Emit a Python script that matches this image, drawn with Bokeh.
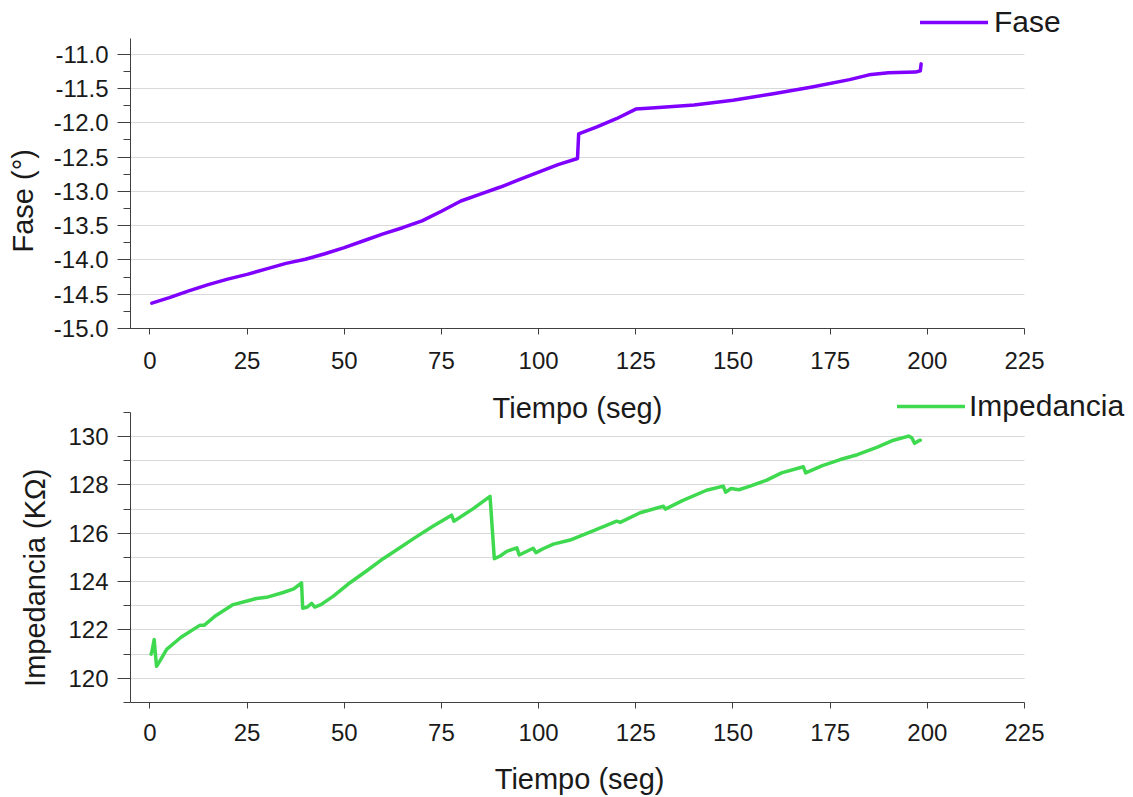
import numpy as np
from bokeh.plotting import figure
from bokeh.layouts import column
from bokeh.models import (Range1d, SingleIntervalTicker, NumeralTickFormatter,
                          Legend, LegendItem, Label, Grid, ColumnDataSource)
from bokeh.embed import file_html
from bokeh.resources import INLINE

FONT = "Liberation Sans"
TEXT = "#1a1a1a"
AXIS = "#404040"
GRID = "#d9d9d9"
NBSP = "\u00a0"

# Phase angle over time (seconds, degrees)
fase_t = [0.5, 5, 10, 15, 20, 25, 30, 35, 40, 45, 50, 55, 60, 65, 70, 75,
          80, 85, 90, 95, 100, 105, 110, 110.3, 115, 120, 125, 130, 140,
          150, 160, 170, 180, 185, 190, 197, 198.2, 198.4]
fase_deg = [-14.63, -14.55, -14.45, -14.36, -14.28, -14.21, -14.13, -14.05,
            -13.99, -13.91, -13.82, -13.72, -13.62, -13.53, -13.43, -13.29,
            -13.14, -13.04, -12.94, -12.83, -12.72, -12.61, -12.52, -12.16,
            -12.06, -11.94, -11.80, -11.78, -11.74, -11.67, -11.58, -11.48,
            -11.37, -11.30, -11.27, -11.26, -11.24, -11.14]

# Impedance magnitude over time (seconds, kOhm)
imp_t = [0.3, 0.5, 1.1, 1.3, 1.7, 2.5, 4.3, 8.0, 12.9, 14.0, 17.0, 21.4,
         25.0, 27.4, 30.0, 34.3, 37.0, 39.0, 39.3, 40.5, 41.6, 42.4, 44.0,
         47.2, 51.0, 55.8, 60.0, 64.3, 68.0, 72.9, 77.6, 78.2, 83.0, 87.5,
         88.6, 90.0, 91.8, 94.4, 95.0, 98.6, 99.3, 101.0, 103.8, 108.1,
         114.0, 120.1, 121.0, 126.1, 132.1, 132.6, 137.0, 143.2, 147.5,
         148.1, 149.5, 151.5, 154.4, 158.7, 162.5, 168.1, 168.7, 173.0,
         177.6, 182.0, 187.0, 191.3, 195.2, 196.0, 196.7, 197.5, 198.2]
imp_kohm = [121.0, 121.1, 121.6, 121.2, 120.5, 120.7, 121.2, 121.7, 122.2,
            122.2, 122.6, 123.05, 123.2, 123.3, 123.35, 123.55, 123.7,
            123.95, 122.9, 122.95, 123.1, 122.95, 123.05, 123.4, 123.9,
            124.45, 124.95, 125.4, 125.8, 126.3, 126.75, 126.5, 127.0,
            127.53, 124.95, 125.05, 125.25, 125.4, 125.1, 125.38, 125.2,
            125.35, 125.55, 125.72, 126.1, 126.5, 126.45, 126.85, 127.12,
            127.0, 127.35, 127.78, 127.95, 127.7, 127.85, 127.8, 127.95,
            128.2, 128.5, 128.75, 128.5, 128.8, 129.05, 129.25, 129.55,
            129.85, 130.02, 129.95, 129.72, 129.8, 129.85]

X_LABEL = "Tiempo (seg)"
FASE_LABEL = "Fase (°)"
IMP_LABEL = "Impedancia (KΩ)"

# axis extents
T_MIN, T_MAX = -5, 225
FASE_MIN, FASE_MAX = -15, -10.77
IMP_MIN, IMP_MAX = 119, 131

# page geometry (px)
W = 1133
LEFT = 130                 # frame left edge
AXIS_W = 894               # drawn length of the time axis
P1_H, P1_FRAME_B = 380, 328
P2_H, P2_FRAME_H = 417, 323
FASE_AXIS_H = 290
IMP_AXIS_H = 291
LEGEND_H = 36
UPPER_TITLE_RISE = 4       # baseline of the upper time title above the impedance axis top

# the frames reach up/right past the axes so that the legends and the
# upper time title fit inside them; the axes themselves are bounded
px_t = AXIS_W / (T_MAX - T_MIN)
t_end = T_MIN + (W - LEFT) / px_t
px_f = FASE_AXIS_H / (FASE_MAX - FASE_MIN)
f_end = FASE_MIN + P1_FRAME_B / px_f
px_i = IMP_AXIS_H / (IMP_MAX - IMP_MIN)
i_end = IMP_MIN + P2_FRAME_H / px_i

HAS_CROSS = "cross_bounds" in Grid.properties()


def style_axes(p, y_lo, y_hi, y_interval, y_minor, x_standoff, y_label_standoff):
    p.outline_line_color = None
    p.background_fill_color = "white"
    p.border_fill_color = "white"
    p.xgrid.visible = False

    xa = p.xaxis[0]
    xa.bounds = (T_MIN, T_MAX)
    xa.ticker = SingleIntervalTicker(interval=25, num_minor_ticks=0)
    xa.axis_line_color = AXIS
    xa.major_tick_line_color = AXIS
    xa.major_tick_in = 0
    xa.major_tick_out = 6
    xa.minor_tick_line_color = None
    xa.major_label_standoff = x_standoff
    xa.major_label_text_font = FONT
    xa.major_label_text_font_size = "24px"
    xa.major_label_text_color = TEXT
    xa.axis_label_text_font = FONT
    xa.axis_label_text_font_size = "29px"
    xa.axis_label_text_font_style = "normal"
    xa.axis_label_text_color = TEXT

    ya = p.yaxis[0]
    ya.bounds = (y_lo, y_hi)
    ya.ticker = SingleIntervalTicker(interval=y_interval, num_minor_ticks=y_minor)
    ya.axis_line_color = AXIS
    ya.major_tick_line_color = AXIS
    ya.minor_tick_line_color = AXIS
    ya.major_tick_in = 0
    ya.major_tick_out = 13
    ya.minor_tick_in = 0
    ya.minor_tick_out = 7
    ya.major_label_standoff = 9
    ya.major_label_text_font = FONT
    ya.major_label_text_font_size = "24px"
    ya.major_label_text_color = TEXT
    ya.axis_label_text_font = FONT
    ya.axis_label_text_font_size = "29px"
    ya.axis_label_text_font_style = "normal"
    ya.axis_label_text_color = TEXT
    ya.axis_label_standoff = y_label_standoff


def add_hgrid(p, lo, hi, step):
    """Horizontal grid lines limited to the time axis extent."""
    g = p.ygrid[0]
    g.grid_line_color = GRID
    g.grid_line_width = 1
    g.bounds = (lo, hi)
    if HAS_CROSS:
        g.cross_bounds = (T_MIN, T_MAX)
        if step < p.yaxis[0].ticker.interval:
            g.minor_grid_line_color = GRID
    else:
        g.visible = False
        levels = np.arange(lo, hi + 1e-9, step)
        p.segment(x0=T_MIN, x1=T_MAX, y0=levels, y1=levels,
                  line_color=GRID, line_width=1, level="underlay")


def make_legend(label, renderer, location, standoff):
    return Legend(items=[LegendItem(label=label, renderers=[renderer])],
                  location=location, orientation="vertical",
                  padding=0, margin=0, spacing=0,
                  glyph_width=68, glyph_height=LEGEND_H,
                  label_height=LEGEND_H, label_standoff=standoff,
                  label_text_font=FONT, label_text_font_size="30px",
                  label_text_color=TEXT,
                  border_line_color=None, background_fill_alpha=0)


# ---- upper panel: phase ----
p1 = figure(width=W, height=P1_H,
            x_range=Range1d(T_MIN, t_end), y_range=Range1d(FASE_MIN, f_end),
            output_backend="svg", toolbar_location=None,
            min_border_left=LEFT, min_border_right=0,
            min_border_top=0, min_border_bottom=P1_H - P1_FRAME_B)
style_axes(p1, FASE_MIN, FASE_MAX, 0.5, 2, 17, 12)
add_hgrid(p1, FASE_MIN, -11.0, 0.5)
p1.yaxis[0].formatter = NumeralTickFormatter(format="0.0")
p1.yaxis[0].axis_label = FASE_LABEL + NBSP * 9

src_f = ColumnDataSource(dict(t=fase_t, v=fase_deg))
r_f = p1.line("t", "v", source=src_f, line_color="#7f00ff", line_width=3.5,
              line_join="round", line_cap="round")
p1.add_layout(make_legend("Fase", r_f, (790, P1_FRAME_B - 4 - LEGEND_H), 6))

# ---- lower panel: impedance ----
p2 = figure(width=W, height=P2_H,
            x_range=Range1d(T_MIN, t_end), y_range=Range1d(IMP_MIN, i_end),
            output_backend="svg", toolbar_location=None,
            min_border_left=LEFT, min_border_right=0,
            min_border_top=0, min_border_bottom=P2_H - P2_FRAME_H)
style_axes(p2, IMP_MIN, IMP_MAX, 2, 2, 15, 14)
add_hgrid(p2, IMP_MIN, 130, 1)
p2.yaxis[0].axis_label = IMP_LABEL + NBSP * 9
p2.xaxis[0].axis_label = X_LABEL + NBSP * 13
p2.xaxis[0].axis_label_standoff = 19

src_i = ColumnDataSource(dict(t=imp_t, v=imp_kohm))
r_i = p2.line("t", "v", source=src_i, line_color="#3fd94f", line_width=3.5,
              line_join="round", line_cap="round")
p2.add_layout(make_legend("Impedancia", r_i, (767, P2_FRAME_H - 9 - LEGEND_H), 4))

# time-axis title of the upper panel, sitting in the gap above the impedance axis
p2.add_layout(Label(x=(T_MIN + T_MAX) / 2, y=IMP_MAX + UPPER_TITLE_RISE / px_i,
                    text=X_LABEL, text_align="center", text_baseline="alphabetic",
                    text_font=FONT, text_font_size="29px", text_color=TEXT))

layout = column(p1, p2, spacing=0)
open("out.html", "w").write(file_html(layout, INLINE))
